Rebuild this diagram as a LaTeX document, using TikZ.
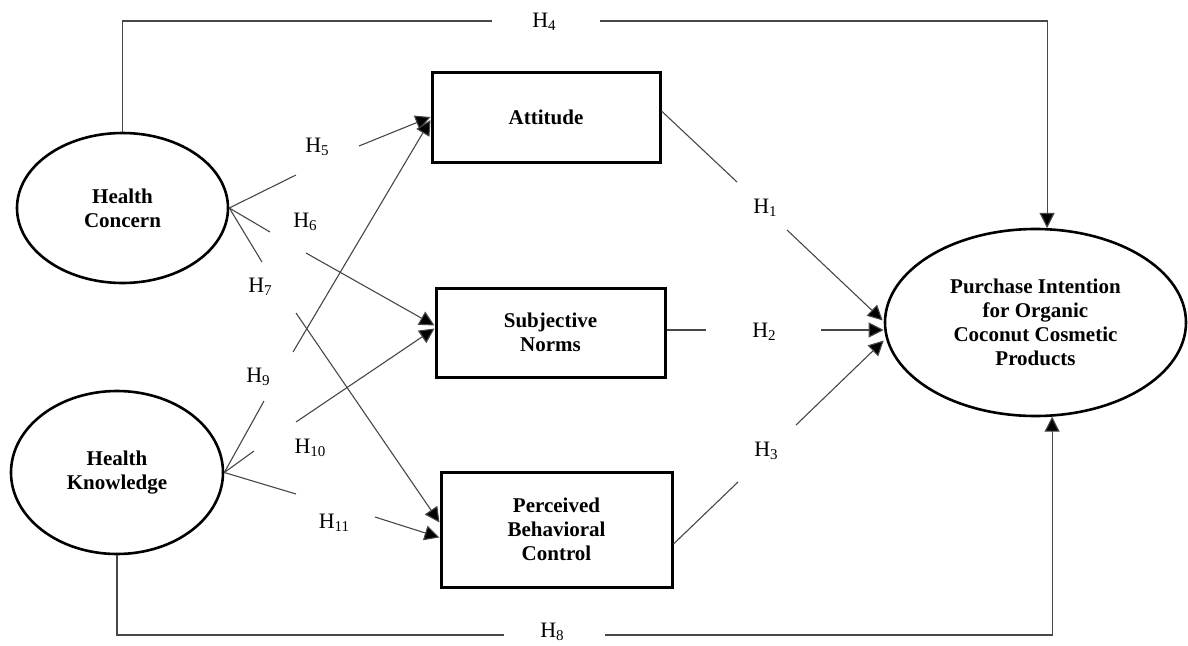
\documentclass[tikz,border=0pt]{standalone}
\usepackage{fontspec}
\setmainfont{Liberation Serif}
\usetikzlibrary{arrows.meta,shapes.geometric,calc}
\newcommand\hyp[1]{H\raisebox{-0.35ex}{\fontsize{15}{15}\selectfont #1}}
\begin{document}
\begin{tikzpicture}[x=1pt,y=-1pt,
  boxnode/.style={draw, line width=3pt, inner sep=0pt, align=center,
    font=\fontsize{21}{24}\selectfont\bfseries},
  ellnode/.style={draw, ellipse, line width=2.6pt, inner sep=0pt, align=center,
    font=\fontsize{21}{24}\selectfont\bfseries},
  thin line/.style={draw=black!72, line width=1.1pt},
  arr/.style={thin line, -{Triangle[length=15pt,width=15pt,fill=black]}},
  hlabel/.style={inner sep=0pt, font=\fontsize{22}{24}\selectfont}
]
\useasboundingbox (0,0) rectangle (1188,645);

% nodes
\node[ellnode, minimum width=211pt, minimum height=150pt] (hc) at (122.5,208) {Health\\Concern};
\node[ellnode, minimum width=212pt, minimum height=163pt] (hk) at (117,472.5) {Health\\Knowledge};
\node[boxnode, minimum width=228pt, minimum height=90pt] (att) at (546,117) {Attitude};
\node[boxnode, minimum width=229pt, minimum height=89pt] (sn) at (550.5,332.5) {Subjective\\Norms};
\node[boxnode, minimum width=231pt, minimum height=115pt] (pbc) at (556.5,529.5) {Perceived\\Behavioral\\Control};
\node[ellnode, minimum width=301pt, minimum height=187pt] (pi) at (1035.5,322.5) {Purchase Intention\\for Organic\\Coconut Cosmetic\\Products};

% labels
\node[hlabel] (l1) at (765,208) {\hyp{1}};
\node[hlabel] (l2) at (764,332) {\hyp{2}};
\node[hlabel] (l3) at (766,451) {\hyp{3}};
\node[hlabel] (l4) at (544,22) {\hyp{4}};
\node[hlabel] (l5) at (317,147) {\hyp{5}};
\node[hlabel] (l6) at (305,222) {\hyp{6}};
\node[hlabel] (l7) at (260,287) {\hyp{7}};
\node[hlabel] (l8) at (552,632) {\hyp{8}};
\node[hlabel] (l9) at (258,377) {\hyp{9}};
\node[hlabel] (l10) at (310,448) {\hyp{10}};
\node[hlabel] (l11) at (334,523) {\hyp{11}};

% gap coordinates
\coordinate (h1a) at (737,182);  \coordinate (h1b) at (787,230);
\coordinate (h2a) at (706,330);  \coordinate (h2b) at (821,330);
\coordinate (h3a) at (738,482);  \coordinate (h3b) at (796,425);
\coordinate (h4a) at (492,21);   \coordinate (h4b) at (600,21);
\coordinate (h5a) at (296,175);  \coordinate (h5b) at (359,146);
\coordinate (h6a) at (270,232);  \coordinate (h6b) at (306,253);
\coordinate (h7a) at (262,262);  \coordinate (h7b) at (296,313);
\coordinate (h8a) at (504,635);  \coordinate (h8b) at (605,635);
\coordinate (h9a) at (264,401);  \coordinate (h9b) at (293,352);
\coordinate (h10a) at (254,451); \coordinate (h10b) at (296,422);
\coordinate (h11a) at (296,494); \coordinate (h11b) at (375,517);

% Health Concern paths
\draw[thin line] (hc.north) |- (h4a);
\draw[arr] (h4b) -| (pi.83);
\draw[thin line] (hc.east) -- (h5a);
\draw[arr] (h5b) -- (att.west);
\draw[thin line] (hc.east) -- (h6a);
\draw[arr] (h6b) -- ($(sn.west)+(0,-7)$);
\draw[thin line] (hc.east) -- (h7a);
\draw[arr] (h7b) -- ($(pbc.west)+(0,-7)$);

% Health Knowledge paths
\draw[thin line] (hk.east) -- (h9a);
\draw[arr] (h9b) -- ($(att.west)+(0,3)$);
\draw[thin line] (hk.east) -- (h10a);
\draw[arr] (h10b) -- ($(sn.west)+(0,-4)$);
\draw[thin line] (hk.east) -- (h11a);
\draw[arr] (h11b) -- ($(pbc.west)+(0,8)$);
\draw[thin line] (hk.south) |- (h8a);
\draw[arr] (h8b) -| (pi.-80);

% to Purchase Intention
\draw[thin line] ($(att.east)+(0,-6)$) -- (h1a);
\draw[arr] (h1b) -- ($(pi.west)+(-1,-2)$);
\draw[thin line] (sn.east |- h2a) -- (h2a);
\draw[arr] (h2b) -- (h2b -| pi.west);
\draw[thin line] ($(pbc.east)+(0,14.5)$) -- (h3a);
\draw[arr] (h3b) -- ($(pi.west)+(0,18)$);
\end{tikzpicture}
\end{document}
